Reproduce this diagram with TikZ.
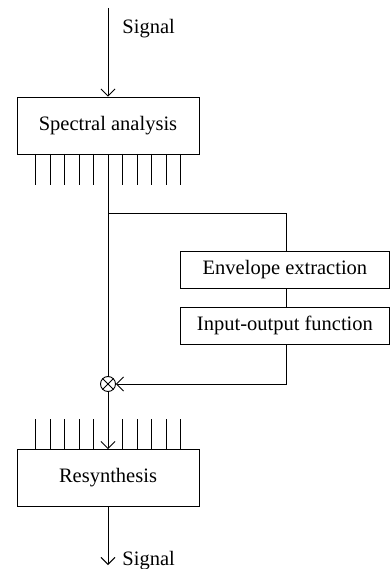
\documentclass[tikz,border=0pt]{standalone}
\usepackage{fontspec}
\setmainfont{Liberation Serif}
\usetikzlibrary{arrows.meta}
\begin{document}
\begin{tikzpicture}[x=1pt,y=-1pt,
  line width=0.9pt,
  txt/.style={font=\fontsize{20.5}{24}\selectfont},
  tip/.style={-{Straight Barb[length=7pt,width=14pt,line width=0.9pt]}},
  block/.style={draw,txt,minimum height=57pt,minimum width=182pt,inner sep=0pt},
  sidebox/.style={draw,txt,minimum height=37pt,anchor=west,inner sep=0pt},
  lbl/.style={txt,anchor=base west,inner sep=0pt}]
\useasboundingbox (0,0) rectangle (389,569);
% blocks
\node[block] (ana) at (108,125.5) {Spectral analysis};
\node[block] (syn) at (108,478) {Resynthesis};
\node[sidebox,minimum width=209pt] (env) at (180,269.5) {Envelope extraction};
\node[sidebox,minimum width=209pt] (io) at (180,325.5) {Input-output function};
\node[draw,circle,minimum size=15pt,inner sep=0pt] (mul) at (108,384) {};
\draw[line width=0.8pt] (mul.45) -- (mul.225) (mul.135) -- (mul.315);
% labels and free ends
\coordinate (in) at (108,8);
\coordinate (out) at (108,565);
\coordinate (branch) at (108,213);
\coordinate (corner) at (286,213);
\coordinate (back) at (286,384);
\node[lbl] (sigin) at (122,34) {Signal};
\node[lbl] (sigout) at (122,565) {Signal};
% channel ticks
\foreach \i in {-5,...,-1,1,2,...,5} {
  \draw (108+14.5*\i,154) -- (108+14.5*\i,185);
  \draw (108+14.5*\i,419) -- (108+14.5*\i,449);
}
% connectors
\draw[tip] (in) -- (ana.north);
\draw (ana.south) -- (mul.north);
\draw (branch) -- (corner) -- (corner |- env.north);
\draw (corner |- env.south) -- (corner |- io.north);
\draw[tip] (corner |- io.south) -- (back) -- (mul.east);
\draw[tip] (mul.south) -- (syn.north);
\draw[tip] (syn.south) -- (out);
\end{tikzpicture}
\end{document}
